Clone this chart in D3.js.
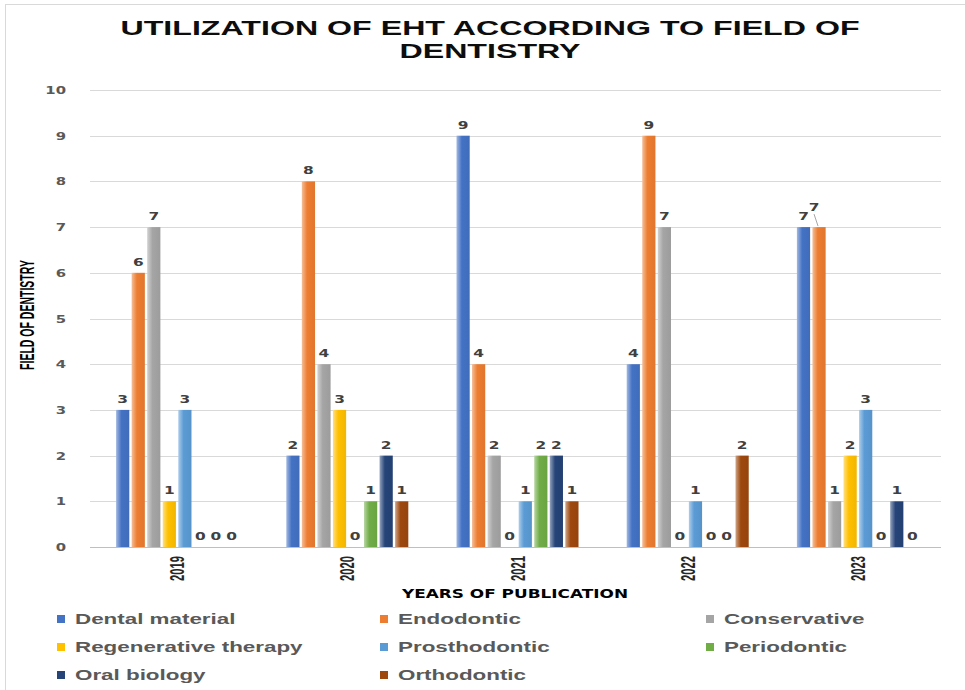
<!DOCTYPE html>
<html>
<head>
<meta charset="utf-8">
<script src="https://cdn.jsdelivr.net/npm/d3@7"></script>
<style>
  html, body { margin: 0; padding: 0; background: #fff; }
  svg { display: block; }
</style>
</head>
<body>
<svg id="chart" width="965" height="690"></svg>
<script>
// Publications per field of dentistry, by year
const years = ["2019", "2020", "2021", "2022", "2023"];
const fields = ["Dental material", "Endodontic", "Conservative", "Regenerative therapy",
                "Prosthodontic", "Periodontic", "Oral biology", "Orthodontic"];
const dentalMaterial = [3, 2, 9, 4, 7];
const endodontic     = [6, 8, 4, 9, 7];
const conservative   = [7, 4, 2, 7, 1];
const regenerative   = [1, 3, 0, 0, 2];
const prosthodontic  = [3, 0, 1, 1, 3];
const periodontic    = [0, 1, 2, 0, 0];
const oralBiology    = [0, 2, 2, 0, 1];
const orthodontic    = [0, 1, 1, 2, 0];
const yTicks = [0, 1, 2, 3, 4, 5, 6, 7, 8, 9, 10];

const seriesValues = [dentalMaterial, endodontic, conservative, regenerative,
                      prosthodontic, periodontic, oralBiology, orthodontic];
const colors = ["#4472C4", "#ED7D31", "#A5A5A5", "#FFC000",
                "#5B9BD5", "#70AD47", "#264478", "#9E480E"];

const svg = d3.select("#chart");
const defs = svg.append("defs");

// Chart frame
svg.append("rect")
  .attr("x", 5.5).attr("y", 4.5)
  .attr("width", 1200).attr("height", 1200)
  .attr("fill", "none").attr("stroke", "#d9d9d9");

const plot = { left: 92, right: 943, top: 90, bottom: 547 };

const x0 = d3.scaleBand().domain(years).range([plot.left, plot.right]).padding(0);
const groupFrac = 0.717;
const bw = x0.bandwidth();
const x1 = d3.scaleBand().domain(fields)
  .range([bw * (1 - groupFrac) / 2, bw * (1 + groupFrac) / 2])
  .paddingInner(0.15);
const y = d3.scaleLinear().domain([0, 10]).range([plot.bottom, plot.top]);
const color = d3.scaleOrdinal().domain(fields).range(colors);

// Horizontal gradient for each bar colour (light edge on the left)
fields.forEach((f, i) => {
  const base = d3.color(colors[i]);
  const g = defs.append("linearGradient")
    .attr("id", "grad" + i)
    .attr("x1", "0%").attr("x2", "100%").attr("y1", "0%").attr("y2", "0%");
  g.append("stop").attr("offset", "0%").attr("stop-color", d3.interpolateRgb(base, "#fff")(0.5));
  g.append("stop").attr("offset", "40%").attr("stop-color", base.formatHex());
  g.append("stop").attr("offset", "100%").attr("stop-color", base.darker(0.15).formatHex());
});

// Gridlines
svg.append("g")
  .selectAll("line")
  .data(yTicks.filter(t => t > 0))
  .join("line")
  .attr("x1", plot.left - 2).attr("x2", plot.right - 2)
  .attr("y1", d => Math.round(y(d)) + 0.5).attr("y2", d => Math.round(y(d)) + 0.5)
  .attr("stroke", "#d9d9d9").attr("stroke-width", 1);

// Y axis tick labels, widened about their right edge
const yAxis = d3.axisLeft(y).tickValues(yTicks).tickSize(0).tickPadding(0);
const yg = svg.append("g").attr("transform", `translate(${plot.left - 26},0)`).call(yAxis);
yg.select(".domain").remove();
yg.selectAll("text")
  .attr("font-family", "DejaVu Sans")
  .attr("font-weight", "bold")
  .attr("font-size", 11)
  .attr("fill", "#595959")
  .attr("transform", "scale(1.35,1)");

// Bars
const groups = svg.append("g")
  .selectAll("g")
  .data(years.map((yr, j) => ({ yr, j })))
  .join("g")
  .attr("transform", d => `translate(${x0(d.yr)},0)`);

const cells = groups.selectAll("g.cell")
  .data(d => fields.map((f, i) => ({ field: f, i, yr: d.yr, j: d.j, value: seriesValues[i][d.j] })))
  .join("g").attr("class", "cell");

cells.append("rect")
  .attr("x", d => x1(d.field))
  .attr("width", x1.bandwidth())
  .attr("y", d => y(d.value))
  .attr("height", d => y(0) - y(d.value))
  .attr("fill", d => `url(#grad${d.i})`);

// X axis baseline
svg.append("line")
  .attr("x1", plot.left - 2).attr("x2", plot.right - 2)
  .attr("y1", plot.bottom + 0.5).attr("y2", plot.bottom + 0.5)
  .attr("stroke", "#bfbfbf").attr("stroke-width", 1);

// Data labels (one label is nudged off its neighbour with a leader line)
const nudges = [{ yr: "2023", field: "Endodontic", dx: -5, dy: -9 }];
cells.each(function (d) {
  const g = d3.select(this);
  const cx = x1(d.field) + x1.bandwidth() / 2;
  const by = y(d.value) - 7;
  const n = nudges.find(k => k.yr === d.yr && k.field === d.field);
  const dx = n ? n.dx : 0, dy = n ? n.dy : 0;
  if (n) {
    g.append("line")
      .attr("x1", cx + dx).attr("y1", by + dy + 3)
      .attr("x2", cx - 1).attr("y2", y(d.value) - 1)
      .attr("stroke", "#a6a6a6").attr("stroke-width", 1);
  }
  g.append("text")
    .attr("transform", `translate(${cx + dx},${by + dy}) scale(1.4,1)`)
    .attr("text-anchor", "middle")
    .attr("font-family", "DejaVu Sans")
    .attr("font-weight", "bold")
    .attr("font-size", 11)
    .attr("fill", "#404040")
    .text(d.value);
});

// X axis category labels (rotated)
svg.append("g")
  .selectAll("text")
  .data(years)
  .join("text")
  .attr("transform", d => `translate(${x0(d) + bw / 2},556) scale(1.75,1) rotate(-90)`)
  .attr("text-anchor", "end")
  .attr("dy", "0.36em")
  .attr("font-family", "Liberation Sans")
  .attr("font-weight", "bold")
  .attr("font-size", 11.2)
  .attr("fill", "#262626")
  .text(d => d);

// Axis titles
svg.append("text")
  .attr("transform", "translate(515,598) scale(1.3,1)")
  .attr("text-anchor", "middle")
  .attr("font-family", "DejaVu Sans")
  .attr("font-weight", "bold")
  .attr("font-size", 13)
  .attr("fill", "#000")
  .text("YEARS OF PUBLICATION");

svg.append("text")
  .attr("transform", "translate(26,315) scale(2,1) rotate(-90)")
  .attr("text-anchor", "middle")
  .attr("dy", "0.36em")
  .attr("font-family", "Liberation Sans")
  .attr("font-weight", "bold")
  .attr("font-size", 10.5)
  .attr("fill", "#000")
  .text("FIELD OF DENTISTRY");

// Title
const titleLines = ["UTILIZATION OF EHT ACCORDING TO FIELD OF", "DENTISTRY"];
svg.append("g")
  .selectAll("text")
  .data(titleLines)
  .join("text")
  .attr("transform", (d, i) => `translate(490,${35 + i * 23}) scale(1.65,1)`)
  .attr("text-anchor", "middle")
  .attr("font-family", "Liberation Sans")
  .attr("font-weight", "bold")
  .attr("font-size", 19.5)
  .attr("fill", "#0d0d0d")
  .text(d => d);

// Legend: three columns
const legendCols = [57, 380, 706];
const legendRows = [619, 647, 675];
const legend = svg.append("g")
  .selectAll("g")
  .data(fields)
  .join("g")
  .attr("transform", (d, i) => `translate(${legendCols[i % 3]},${legendRows[Math.floor(i / 3)]})`);
legend.append("rect")
  .attr("x", 0).attr("y", -4).attr("width", 8).attr("height", 8)
  .attr("fill", d => color(d));
legend.append("text")
  .attr("transform", "translate(18,5) scale(1.6,1)")
  .attr("font-family", "Liberation Sans")
  .attr("font-weight", "bold")
  .attr("font-size", 14)
  .attr("fill", "#595959")
  .text(d => d);
</script>
</body>
</html>
